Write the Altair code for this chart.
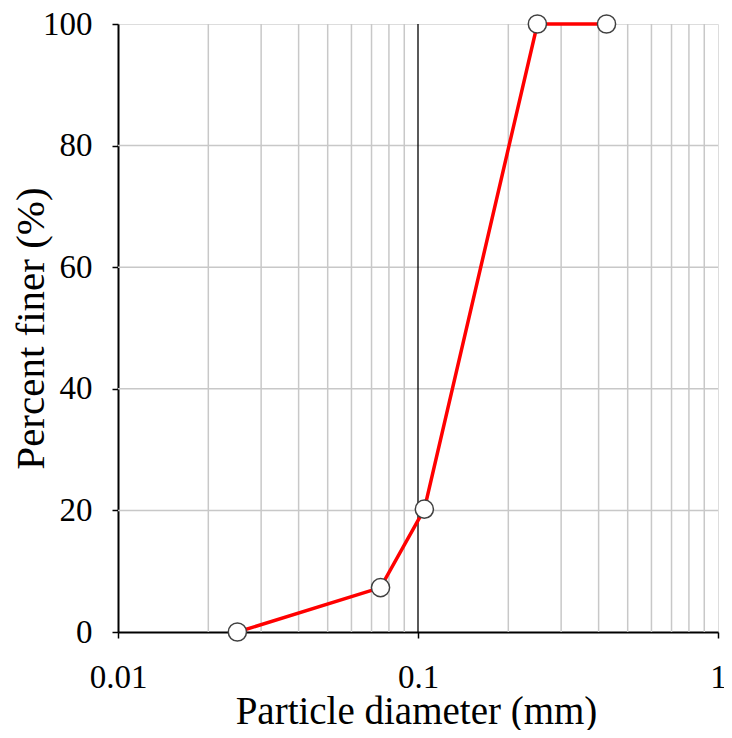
import altair as alt
import pandas as pd

diameter = [0.025, 0.075, 0.105, 0.25, 0.425]
finer = [0, 7.3, 20.2, 100, 100]
minor_x = [0.02, 0.03, 0.04, 0.05, 0.06, 0.07, 0.08, 0.09,
           0.2, 0.3, 0.4, 0.5, 0.6, 0.7, 0.8, 0.9]
major_x = [0.1]
grid_y = [20, 40, 60, 80]
x_ticks = [0.01, 0.1, 1]
y_ticks = [0, 20, 40, 60, 80, 100]

df = pd.DataFrame({"d": diameter, "p": finer})
FONT = "Liberation Serif"

xscale = alt.Scale(type="log", domain=[0.01, 1], nice=False)
yscale = alt.Scale(domain=[0, 100], nice=False)

vgrid = alt.Chart(pd.DataFrame({"g": minor_x})).mark_rule(color="#c8c8c8", strokeWidth=1.5).encode(
    x=alt.X("g:Q", scale=xscale))
mgrid = alt.Chart(pd.DataFrame({"g": major_x})).mark_rule(color="#000000", strokeWidth=1.3).encode(
    x=alt.X("g:Q", scale=xscale))
hgrid = alt.Chart(pd.DataFrame({"g": grid_y})).mark_rule(color="#c8c8c8", strokeWidth=1.5).encode(
    y=alt.Y("g:Q", scale=yscale))

xaxis = alt.Axis(values=x_ticks, title="Particle diameter (mm)", grid=False,
                 labelExpr="datum.value >= 1 ? '1' : datum.value >= 0.1 ? '0.1' : '0.01'",
                 labelFont=FONT, labelFontSize=33, labelColor="#000", labelPadding=23,
                 titleFont=FONT, titleFontSize=39, titleFontWeight="normal", titleColor="#000",
                 titleX=298, titleY=91, titleBaseline="alphabetic", titleAlign="center",
                 tickColor="#000", tickSize=6, tickWidth=1.5,
                 domainColor="#000", domainWidth=2, labelFlush=False, labelOverlap=False)
yaxis = alt.Axis(values=y_ticks, title="Percent finer (%)", grid=False,
                 labelFont=FONT, labelFontSize=33, labelColor="#000", labelPadding=20,
                 titleFont=FONT, titleFontSize=41, titleFontWeight="normal", titleColor="#000",
                 titleX=-87, titleY=304, titleBaseline="middle", titleAlign="center", titleAngle=270,
                 tickColor="#000", tickSize=6, tickWidth=1.5,
                 domainColor="#000", domainWidth=2, labelFlush=False)

line = alt.Chart(df).mark_line(color="#ff0000", strokeWidth=3.5).encode(
    x=alt.X("d:Q", scale=xscale, axis=xaxis),
    y=alt.Y("p:Q", scale=yscale, axis=yaxis))
pts = alt.Chart(df).mark_point(filled=True, fill="white", stroke="#404040", strokeWidth=1.5,
                                size=330, opacity=1, clip=False).encode(
    x=alt.X("d:Q", scale=xscale),
    y=alt.Y("p:Q", scale=yscale))

chart = alt.layer(vgrid, hgrid, mgrid, line, pts).properties(
    width=600, height=608,
    autosize=alt.AutoSizeParams(type="none"),
    padding={"left": 110, "top": 16, "right": 6, "bottom": 98},
).configure_view(stroke="#000", strokeWidth=2).configure(background="white")

chart.save("out.html", embed_options={"renderer": "svg", "actions": False})
